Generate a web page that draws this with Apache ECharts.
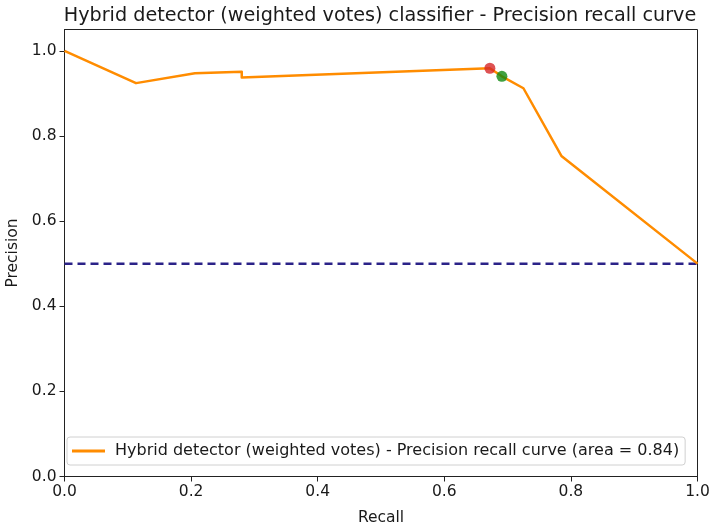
<!DOCTYPE html>
<html>
<head>
<meta charset="utf-8">
<script src="https://cdn.jsdelivr.net/npm/echarts@6/dist/echarts.min.js"></script>
<style>
  html, body { margin: 0; padding: 0; background: #fff; }
  #chart { width: 710px; height: 530px; }
</style>
</head>
<body>
<div id="chart"></div>
<script>
// Precision-recall curve of the weighted-votes hybrid detector
const recall    = [0.0, 0.113, 0.206, 0.207, 0.280, 0.280, 0.672, 0.691, 0.725, 0.785, 1.0];
const precision = [1.0, 0.924, 0.947, 0.943, 0.951, 0.937, 0.959, 0.940, 0.912, 0.753, 0.5];

// No-skill baseline (positive class ratio)
const baselineRecall = [0.0, 1.0];
const baselinePrecision = [0.5, 0.5];

// Highlighted operating points
const redPoint = [0.672, 0.959];
const greenPoint = [0.691, 0.940];

const tickValues = [0, 0.2, 0.4, 0.6, 0.8, 1.0];

const seriesName = 'Hybrid detector (weighted votes) - Precision recall curve (area = 0.84)';
const titleText = 'Hybrid detector (weighted votes) classifier - Precision recall curve';

const font = 'DejaVu Sans';
const chart = echarts.init(document.getElementById('chart'), null, { renderer: 'canvas' });

const pairs = (xs, ys) => xs.map((x, i) => [x, ys[i]]);

chart.setOption({
  animation: false,
  backgroundColor: '#fff',
  title: {
    text: titleText,
    left: 375,
    textAlign: 'center',
    top: 2,
    textStyle: { fontFamily: font, fontSize: 19.2, fontWeight: 'normal', color: '#1a1a1a' }
  },
  grid: {
    left: 64.5, right: 12.5, top: 29.5, bottom: 53.5,
    outerBoundsMode: 'none',
    containLabel: false,
    show: true, borderColor: '#222', borderWidth: 1, backgroundColor: 'transparent'
  },
  legend: {
    data: [seriesName],
    left: 67, top: 437,
    orient: 'vertical',
    itemWidth: 33, itemHeight: 3,
    itemGap: 6,
    padding: [6, 6, 6, 5],
    borderColor: '#d0d0d0', borderWidth: 1, borderRadius: 3,
    backgroundColor: 'rgba(255,255,255,0.85)',
    textStyle: { fontFamily: font, fontSize: 16, color: '#1a1a1a', padding: [0, 0, 0, 5] },
    icon: 'rect'
  },
  xAxis: {
    type: 'value', min: 0, max: 1, interval: 0.2,
    name: 'Recall', nameLocation: 'middle', nameGap: 33,
    nameTextStyle: { fontFamily: font, fontSize: 15.5, color: '#1a1a1a' },
    axisLine: { show: true, lineStyle: { color: '#222', width: 1 } },
    axisTick: { show: true, length: 5, lineStyle: { color: '#222' } },
    axisLabel: { fontFamily: font, fontSize: 15.5, color: '#1a1a1a', margin: 7,
                 formatter: v => v.toFixed(1) },
    splitLine: { show: false }
  },
  yAxis: {
    type: 'value', min: 0, max: 1.05,
    name: 'Precision', nameLocation: 'middle', nameGap: 42, nameRotate: 90,
    nameTextStyle: { fontFamily: font, fontSize: 15.5, color: '#1a1a1a' },
    axisLine: { show: true, lineStyle: { color: '#222', width: 1 } },
    axisTick: { show: true, length: 5, lineStyle: { color: '#222' }, customValues: tickValues },
    axisLabel: { fontFamily: font, fontSize: 15.5, color: '#1a1a1a', margin: 8,
                 customValues: tickValues, formatter: v => v.toFixed(1) },
    splitLine: { show: false }
  },
  series: [
    {
      name: seriesName,
      type: 'line',
      data: pairs(recall, precision),
      showSymbol: false,
      symbol: 'none',
      lineStyle: { color: '#ff8c00', width: 2.5, join: 'round' },
      itemStyle: { color: '#ff8c00' },
      z: 3
    },
    {
      name: 'baseline',
      type: 'line',
      data: pairs(baselineRecall, baselinePrecision),
      symbol: 'none',
      lineStyle: { color: '#2b2288', width: 2.5, type: [8, 5] },
      z: 2
    },
    {
      name: 'red',
      type: 'scatter',
      data: [redPoint],
      symbolSize: 11,
      itemStyle: { color: '#d62728' },
      z: 5
    },
    {
      name: 'green',
      type: 'scatter',
      data: [greenPoint],
      symbolSize: 11,
      itemStyle: { color: '#118a11' },
      z: 5
    }
  ]
});
</script>
</body>
</html>
